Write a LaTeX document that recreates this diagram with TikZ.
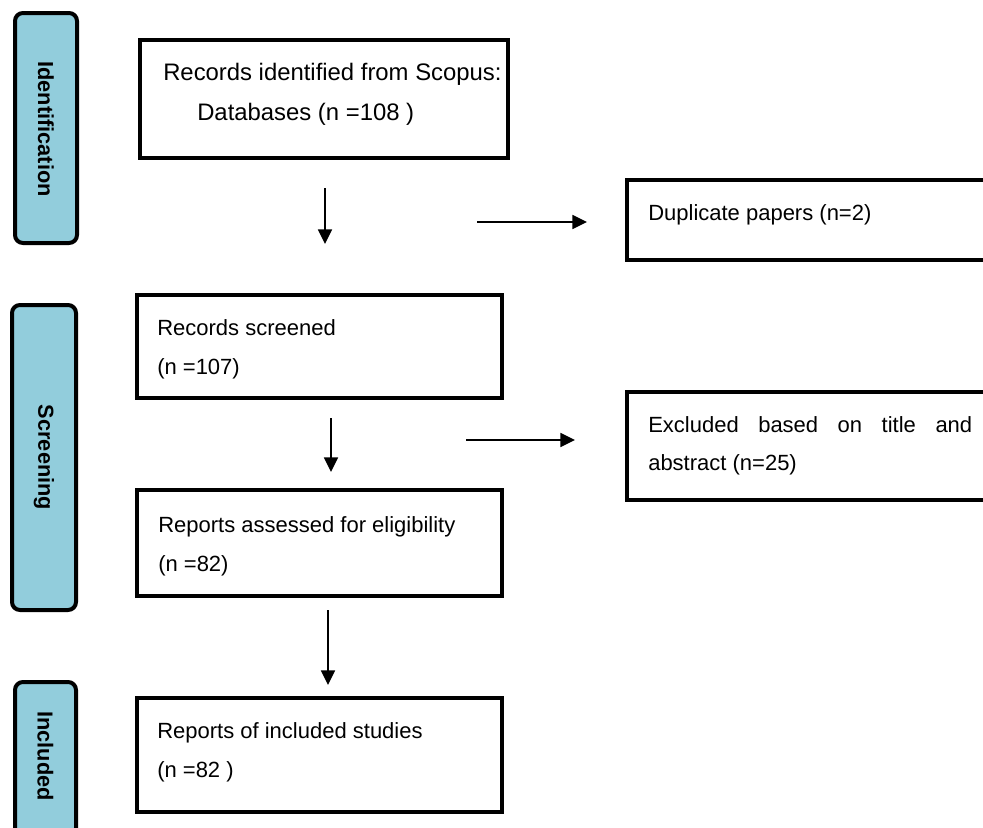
\documentclass[tikz,border=0pt]{standalone}
\usepackage{fontspec}
\setmainfont{Liberation Sans}
\usetikzlibrary{arrows.meta}
\definecolor{sideblue}{HTML}{92CDDC}
\tikzset{
  box/.style={draw=black, line width=3pt, fill=white, inner sep=0pt},
  sidebox/.style={draw=black, line width=3pt, fill=sideblue, rounded corners=6pt, inner sep=0pt},
  sidelabel/.style={rotate=-90, font=\fontsize{16.3}{19}\selectfont\bfseries, inner sep=0pt},
  txt/.style={anchor=base west, inner sep=0pt, font=\fontsize{16.5}{19}\selectfont},
  txtbig/.style={anchor=base west, inner sep=0pt, font=\fontsize{17.9}{21}\selectfont},
  arr/.style={line width=1.2pt, -{Triangle[length=11pt,width=10.5pt]}}
}
\begin{document}
\begin{tikzpicture}[x=0.75pt,y=-0.75pt]
\clip (0,0) rectangle (983,828);
\fill[white] (0,0) rectangle (983,828);
% side boxes
\node[sidebox, minimum width=46.5pt, minimum height=172.5pt] (sid) at (46,128) {};
\node[sidelabel] (sidt) at (46,129) {Identification};
\node[sidebox, minimum width=48pt, minimum height=228.75pt] (sscr) at (44,457.5) {};
\node[sidelabel] (sscrt) at (44,457.5) {Screening};
\node[sidebox, minimum width=45.75pt, minimum height=115.5pt] (sinc) at (45.5,759) {};
\node[sidelabel] (sinct) at (45.5,756) {Included};
% main boxes
\node[box, minimum width=276pt, minimum height=88.5pt] (b1) at (324,99) {};
\node[txtbig] (b1a) at (163,80) {Records identified from Scopus:};
\node[txtbig] (b1b) at (197,120) {Databases (n =108 )};
\node[box, minimum width=276pt, minimum height=60pt] (dup) at (811,220) {};
\node[txt] (dupa) at (648,220) {Duplicate papers (n=2)};
\node[box, minimum width=273.75pt, minimum height=77.25pt] (scr) at (319.5,346.5) {};
\node[txt] (scra) at (157,335) {Records screened};
\node[txt] (scrb) at (157,374) {(n =107)};
\node[box, minimum width=276pt, minimum height=81pt] (exc) at (811,446) {};
\node[txt] (exca) at (648,432) {\hbox to 243pt{Excluded\hfill based\hfill on\hfill title\hfill and}};
\node[txt] (excb) at (648,470) {abstract (n=25)};
\node[box, minimum width=273.75pt, minimum height=79.5pt] (ass) at (319.5,543) {};
\node[txt] (assa) at (158,532) {Reports assessed for eligibility};
\node[txt] (assb) at (158,571) {(n =82)};
\node[box, minimum width=273.75pt, minimum height=85.5pt] (inc) at (319.5,755) {};
\node[txt] (inca) at (157,738) {Reports of included studies};
\node[txt] (incb) at (157,777) {(n =82 )};
% arrows
\coordinate (d1s) at (325,188); \coordinate (d1e) at (325,244);
\coordinate (r1s) at (477,222); \coordinate (r1e) at (587,222);
\coordinate (d2s) at (331,418); \coordinate (d2e) at (331,472);
\coordinate (r2s) at (466,440); \coordinate (r2e) at (575,440);
\coordinate (d3s) at (328,610); \coordinate (d3e) at (328,685);
\draw[arr] (d1s) -- (d1e);
\draw[arr] (r1s) -- (r1e);
\draw[arr] (d2s) -- (d2e);
\draw[arr] (r2s) -- (r2e);
\draw[arr] (d3s) -- (d3e);
\end{tikzpicture}
\end{document}
